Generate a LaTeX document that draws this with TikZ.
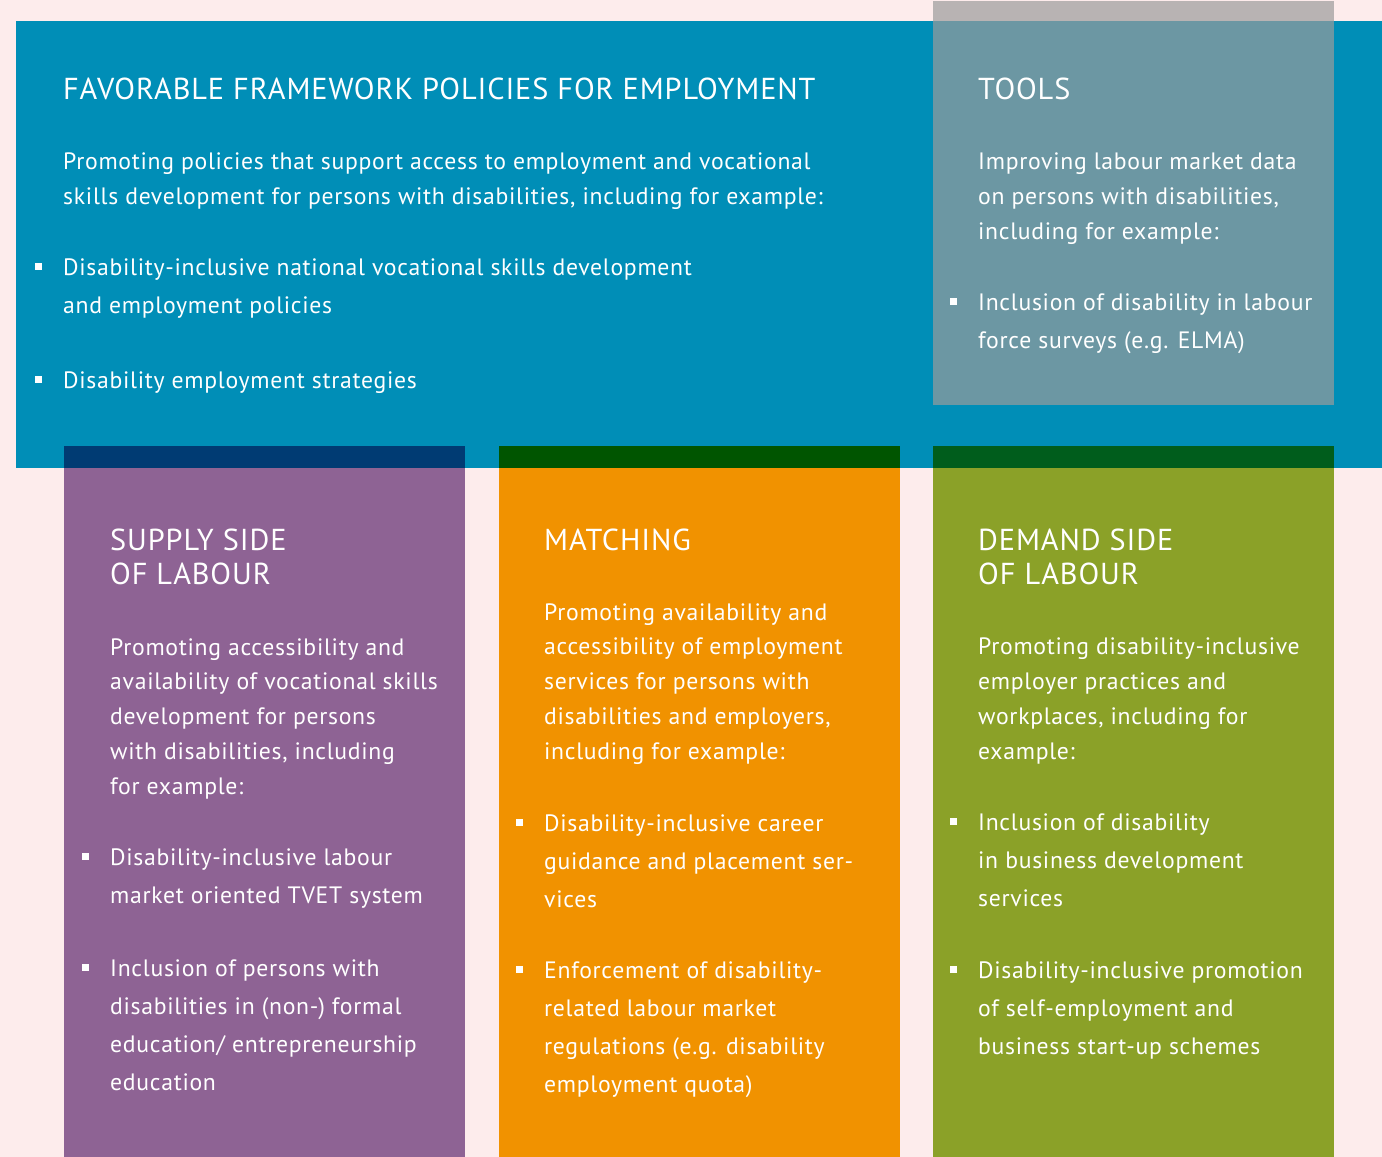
\documentclass[tikz,border=0pt]{standalone}
\usepackage{fontspec}
\setmainfont{PT Sans}[LetterSpace=3]
\usepackage{tikz}

\definecolor{bgpink}{RGB}{253,236,236}
\definecolor{frameblue}{RGB}{0,142,183}
\definecolor{toolgrey}{RGB}{155,155,155}
\definecolor{supplypurple}{RGB}{142,99,148}
\definecolor{matchorange}{RGB}{241,146,0}
\definecolor{demandgreen}{RGB}{139,161,40}
\definecolor{supplyover}{RGB}{0,59,115}
\definecolor{matchover}{RGB}{0,85,0}
\definecolor{demandover}{RGB}{0,93,28}

% small square bullet hanging left of the text
\newcommand{\bul}{\llap{\rule[5.5pt]{7pt}{7pt}\hspace{21pt}}}

\begin{document}
\begin{tikzpicture}[
  x=1pt,y=-1pt,
  % nodes sit on the baseline of their last line
  head/.style={anchor=base west,inner sep=0pt,align=left,text=white,font=\fontsize{30.3}{34}\selectfont},
  para/.style={anchor=base west,inner sep=0pt,align=left,text=white,font=\fontsize{23.7}{34.7}\selectfont},
  item/.style={anchor=base west,inner sep=0pt,align=left,text=white,font=\fontsize{23.7}{37.7}\selectfont}
]
  \useasboundingbox (0,0) rectangle (1382,1157);
  \fill[bgpink] (0,0) rectangle (1382,1157);

  % panels
  \fill[frameblue] (16,21) rectangle (1382,468);
  \fill[toolgrey,opacity=0.7] (933,1) rectangle (1334,405);
  \fill[supplypurple] (64,446) rectangle (465,1157);
  \fill[matchorange] (499,446) rectangle (900,1157);
  \fill[demandgreen] (933,446) rectangle (1334,1157);
  \fill[supplyover] (64,446) rectangle (465,468);
  \fill[matchover] (499,446) rectangle (900,468);
  \fill[demandover] (933,446) rectangle (1334,468);

  % framework policies
  \node[head] (fwhead) at (63,99) {FAVORABLE FRAMEWORK POLICIES FOR EMPLOYMENT};
  \node[para] (fwtext) at (63,204) {Promoting policies that support access to employment and vocational\\skills development for persons with disabilities, including for example:};
  \node[item] (fwitem1) at (63,313) {\bul Disability-inclusive national vocational skills development\\and employment policies};
  \node[item] (fwitem2) at (63,388) {\bul Disability employment strategies};

  % tools
  \node[head] (tlhead) at (978,99) {TOOLS};
  \node[para] (tltext) at (978,239) {Improving labour market data\\on persons with disabilities,\\including for example:};
  \node[item] (tlitem1) at (978,348) {\bul Inclusion of disability in labour\\force surveys (e.g. ELMA)};

  % supply side
  \node[head] (suhead) at (110,584) {SUPPLY SIDE\\OF LABOUR};
  \node[para] (sutext) at (110,794) {Promoting accessibility and\\availability of vocational skills\\development for persons\\with disabilities, including\\for example:};
  \node[item] (suitem1) at (110,903) {\bul Disability-inclusive labour\\market oriented TVET system};
  \node[item] (suitem2) at (110,1090) {\bul Inclusion of persons with\\disabilities in (non-) formal\\education/ entrepreneurship\\education};

  % matching
  \node[head] (mahead) at (544,550) {MATCHING};
  \node[para] (matext) at (544,759) {Promoting availability and\\accessibility of employment\\services for persons with\\disabilities and employers,\\including for example:};
  \node[item] (maitem1) at (544,907) {\bul Disability-inclusive career\\guidance and placement ser-\\vices};
  \node[item] (maitem2) at (544,1092) {\bul Enforcement of disability-\\related labour market\\regulations (e.g. disability\\employment quota)};

  % demand side
  \node[head] (dehead) at (978,584) {DEMAND SIDE\\OF LABOUR};
  \node[para] (detext) at (978,759) {Promoting disability-inclusive\\employer practices and\\workplaces, including for\\example:};
  \node[item] (deitem1) at (978,906) {\bul Inclusion of disability\\in business development\\services};
  \node[item] (deitem2) at (978,1054) {\bul Disability-inclusive promotion\\of self-employment and\\business start-up schemes};
\end{tikzpicture}
\end{document}
